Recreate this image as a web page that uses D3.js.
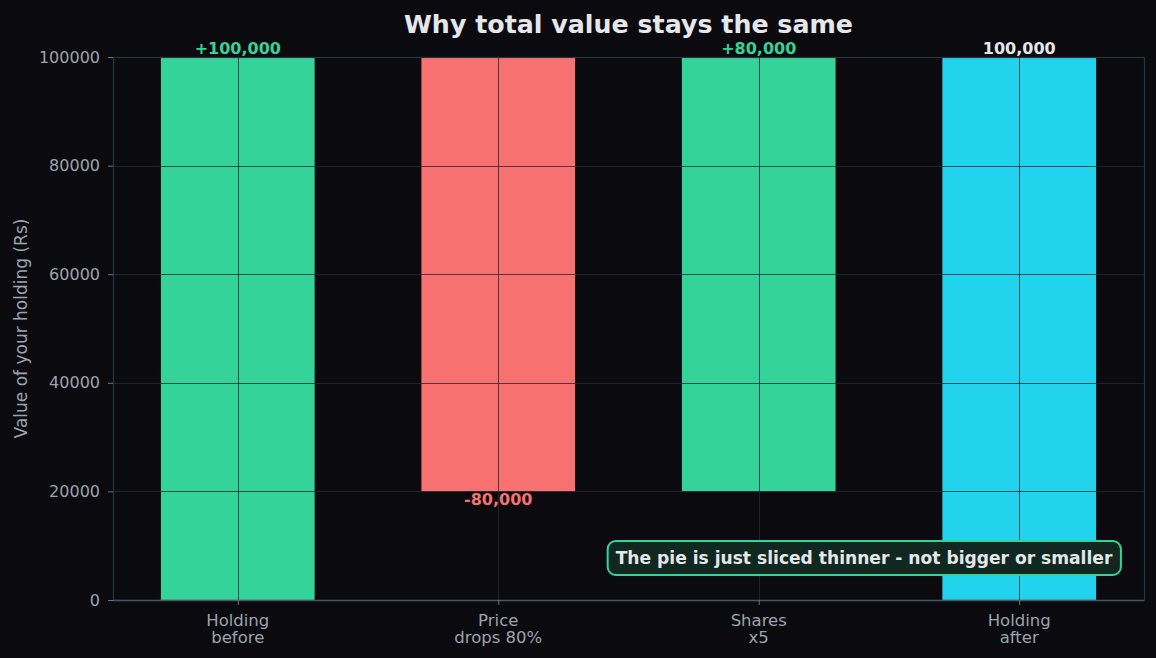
<!DOCTYPE html>
<html>
<head>
<meta charset="utf-8">
<script src="https://cdn.jsdelivr.net/npm/d3@7"></script>
<style>
  html, body { margin: 0; padding: 0; background: #0b0b0f; }
  svg { display: block; font-family: "DejaVu Sans", sans-serif; }
</style>
</head>
<body>
<div id="chart"></div>
<script>
// data
var categories = ["Holding\nbefore", "Price\ndrops 80%", "Shares\nx5", "Holding\nafter"];
var barBottoms = [0, 20000, 20000, 0];
var barTops = [100000, 100000, 100000, 100000];
var barLabels = ["+100,000", "-80,000", "+80,000", "100,000"];
var barKinds = ["up", "down", "up", "total"];
var yTicks = [0, 20000, 40000, 60000, 80000, 100000];
var note = "The pie is just sliced thinner - not bigger or smaller";

var colors = { up: "#34d399", down: "#f87171", total: "#22d3ee" };
var labelColors = { up: "#34d399", down: "#f87171", total: "#e5e7eb" };

var w = 1156, h = 658;
var pLeft = 113, pRight = 1144, pTop = 57, pBottom = 600;

var svg = d3.select('#chart').
append('svg').
attr('width', w).
attr('height', h);

svg.append('rect').attr('width', w).attr('height', h).attr('fill', '#0b0b0f');

var x = d3.scalePoint().
domain(d3.range(categories.length)).
range([pLeft, pRight]).
padding(0.479);
var barW = x.step() * 0.59;

var y = d3.scaleLinear().
domain([0, 100000]).
range([pBottom, pTop]);

// bars
svg.selectAll('.bar').
data(categories).
enter().
append('rect').
attr('class', 'bar').
attr('x', (d, i) => x(i) - barW / 2).
attr('width', barW).
attr('y', (d, i) => y(barTops[i])).
attr('height', (d, i) => y(barBottoms[i]) - y(barTops[i])).
attr('fill', (d, i) => colors[barKinds[i]]);

// grid over bars
var grid = svg.append('g').attr('stroke', '#222a35').attr('stroke-opacity', 0.8).attr('stroke-width', 1);
grid.selectAll('.hg').
data(yTicks).
enter().
append('line').
attr('x1', pLeft).attr('x2', pRight).
attr('y1', d => Math.round(y(d)) + 0.5).attr('y2', d => Math.round(y(d)) + 0.5);
grid.selectAll('.vg').
data(categories).
enter().
append('line').
attr('y1', pTop).attr('y2', pBottom).
attr('x1', (d, i) => Math.round(x(i)) + 0.5).attr('x2', (d, i) => Math.round(x(i)) + 0.5);

// spines
svg.append('rect').
attr('x', pLeft + 0.5).attr('y', pTop + 0.5).
attr('width', pRight - pLeft).attr('height', pBottom - pTop).
attr('fill', 'none').attr('stroke', '#2a323d').attr('stroke-width', 1.2);
svg.append('line').
attr('x1', pLeft).attr('x2', pRight).
attr('y1', pBottom + 0.5).attr('y2', pBottom + 0.5).
attr('stroke', '#4b5563').attr('stroke-width', 1.4);

// y axis
var yAxis = svg.append('g').
attr('transform', 'translate(' + pLeft + ',0)').
call(d3.axisLeft(y).tickValues(yTicks).tickFormat(d3.format('d')).tickSize(5).tickPadding(8));
yAxis.select('.domain').remove();
yAxis.selectAll('line').attr('stroke', '#6b7280');
yAxis.selectAll('text').attr('fill', '#9ca3af').style('font-size', '16px').style('font-family', '"DejaVu Sans", sans-serif');

// x axis
var xAxis = svg.append('g').
attr('transform', 'translate(0,' + pBottom + ')').
call(d3.axisBottom(x).tickSize(5).tickFormat(''));
xAxis.select('.domain').remove();
xAxis.selectAll('line').attr('stroke', '#6b7280');

var xl = svg.selectAll('.xlabel').
data(categories).
enter().
append('text').
attr('class', 'xlabel').
attr('text-anchor', 'middle').
attr('fill', '#9ca3af').
style('font-size', '16.5px');
xl.selectAll('tspan').
data((d, i) => d.split('\n').map(s => ({ s: s, i: i }))).
enter().
append('tspan').
attr('x', d => x(d.i)).
attr('y', (d, j) => 626 + j * 17).
text(d => d.s);

// y label
svg.append('text').
attr('transform', 'translate(27,' + (pTop + pBottom) / 2 + ') rotate(-90)').
attr('text-anchor', 'middle').
attr('fill', '#9ca3af').
style('font-size', '17px').
text('Value of your holding (Rs)');

// title
svg.append('text').
attr('x', (pLeft + pRight) / 2).
attr('y', 33).
attr('text-anchor', 'middle').
attr('fill', '#e5e7eb').
style('font-size', '25.3px').
style('font-weight', 'bold').
text('Why total value stays the same');

// bar labels
svg.selectAll('.blabel').
data(barLabels).
enter().
append('text').
attr('class', 'blabel').
attr('x', (d, i) => x(i)).
attr('y', (d, i) => barKinds[i] === 'down' ? y(barBottoms[i]) + 14 : y(barTops[i]) - 3).
attr('text-anchor', 'middle').
attr('fill', (d, i) => labelColors[barKinds[i]]).
style('font-size', '16px').
style('font-weight', 'bold').
text(d => d);

// note box
var noteG = svg.append('g');
var nt = noteG.append('text').
attr('x', 864).
attr('y', 564).
attr('text-anchor', 'middle').
attr('fill', '#e5e7eb').
style('font-size', '17.1px').
style('font-weight', 'bold').
text(note);
var bb = nt.node().getBBox();
noteG.insert('rect', 'text').
attr('x', bb.x - 8).
attr('y', 541).
attr('width', bb.width + 16).
attr('height', 34).
attr('rx', 8).
attr('fill', '#10281f').
attr('stroke', '#34d399').
attr('stroke-width', 2);
</script>
</body>
</html>
